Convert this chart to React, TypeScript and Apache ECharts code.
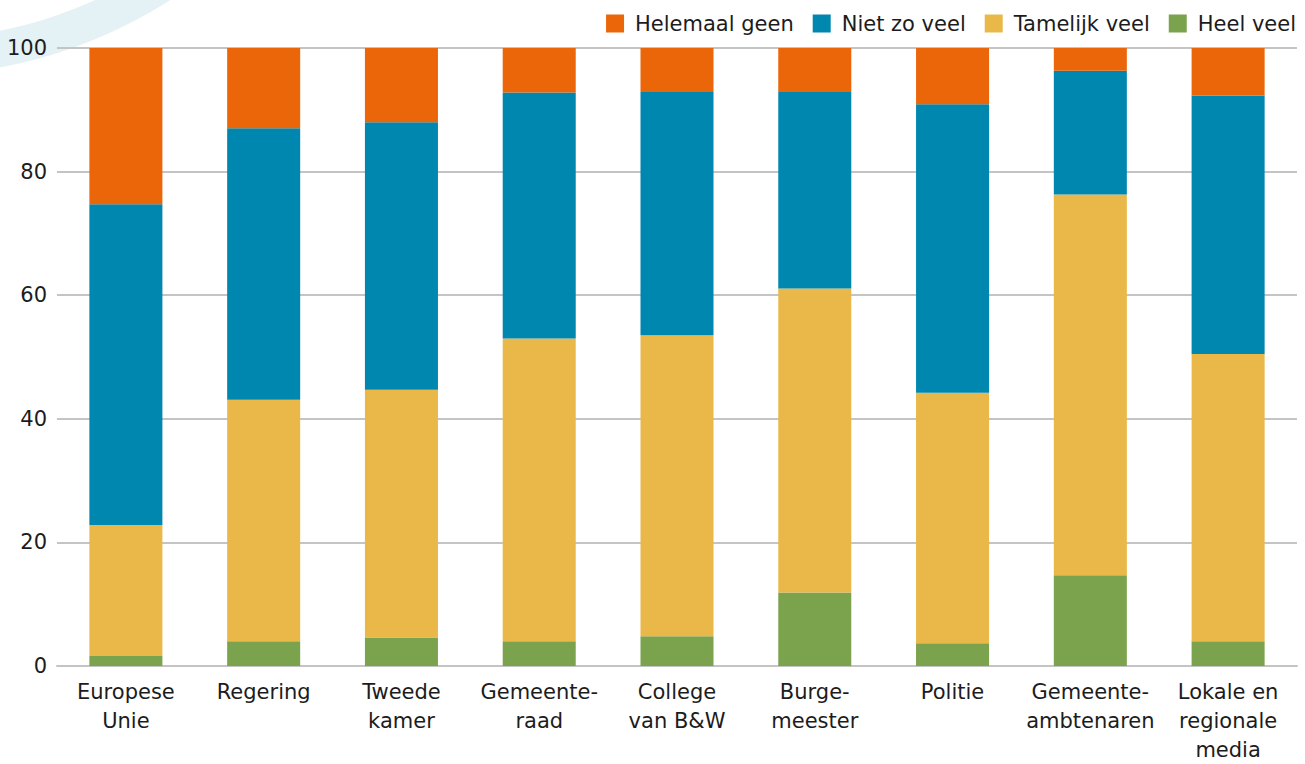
import React, { useEffect, useRef } from "react";
import * as echarts from "echarts";

// Vertrouwen in instellingen (percentages per instelling)
const categories = [
  "Europese\nUnie",
  "Regering",
  "Tweede\nkamer",
  "Gemeente-\nraad",
  "College\nvan B&W",
  "Burge-\nmeester",
  "Politie",
  "Gemeente-\nambtenaren",
  "Lokale en\nregionale\nmedia",
];

const heelVeel = [1.6, 4.0, 4.6, 4.0, 4.8, 11.9, 3.7, 14.7, 4.0];
const tamelijkVeel = [21.2, 39.1, 40.1, 49.0, 48.7, 49.2, 40.5, 61.6, 46.5];
const nietZoVeel = [51.9, 43.9, 43.3, 39.8, 39.4, 31.8, 46.7, 20.0, 41.8];
const helemaalGeen = [25.3, 13.0, 12.0, 7.2, 7.1, 7.1, 9.1, 3.7, 7.7];

const yTicks = [0, 20, 40, 60, 80, 100];

const FONT = "'DejaVu Sans', sans-serif";
const TEXT = "#1c1c1c";

export default function App() {
  const ref = useRef<HTMLDivElement>(null);

  useEffect(() => {
    if (!ref.current) return;
    const chart = echarts.init(ref.current, undefined, { renderer: "svg" });

    const bar = (name: string, data: number[], color: string) => ({
      name,
      type: "bar",
      stack: "totaal",
      data,
      barWidth: "53%",
      itemStyle: { color },
      emphasis: { disabled: true },
    });

    chart.setOption({
      animation: false,
      textStyle: { fontFamily: FONT },
      graphic: [
        {
          // decorative light-blue arc in the top-left corner
          type: "ring",
          z: -10,
          silent: true,
          shape: { cx: -85, cy: -397, r: 472, r0: 436 },
          style: { fill: "#e4f1f5" },
        },
      ],
      legend: {
        right: 4,
        top: 8,
        itemWidth: 18,
        itemHeight: 18,
        itemGap: 19,
        icon: "rect",
        data: ["Helemaal geen", "Niet zo veel", "Tamelijk veel", "Heel veel"],
        textStyle: { fontFamily: FONT, fontSize: 21, color: TEXT, padding: [0, 0, 0, 6] },
      },
      grid: { left: 57, right: 8, top: 48, bottom: 92, containLabel: false },
      xAxis: {
        type: "category",
        data: categories,
        axisTick: { show: false },
        axisLine: { lineStyle: { color: "#c4c4c4", width: 2 } },
        axisLabel: {
          interval: 0,
          margin: 11,
          fontFamily: FONT,
          fontSize: 21,
          lineHeight: 29,
          color: TEXT,
          align: "center",
          verticalAlign: "top",
        },
      },
      yAxis: {
        type: "value",
        min: yTicks[0],
        max: yTicks[yTicks.length - 1],
        interval: 20,
        axisLine: { show: false },
        axisTick: { show: false },
        splitLine: { lineStyle: { color: "#c4c4c4", width: 2 } },
        axisLabel: { margin: 10, fontFamily: FONT, fontSize: 21, color: TEXT },
      },
      series: [
        bar("Heel veel", heelVeel, "#7ba34e"),
        bar("Tamelijk veel", tamelijkVeel, "#e9b849"),
        bar("Niet zo veel", nietZoVeel, "#0087b0"),
        bar("Helemaal geen", helemaalGeen, "#eb6608"),
      ],
    });

    return () => chart.dispose();
  }, []);

  return (
    <div
      ref={ref}
      style={{ position: "fixed", left: 0, top: 0, width: 1305, height: 764, background: "#fff" }}
    />
  );
}
